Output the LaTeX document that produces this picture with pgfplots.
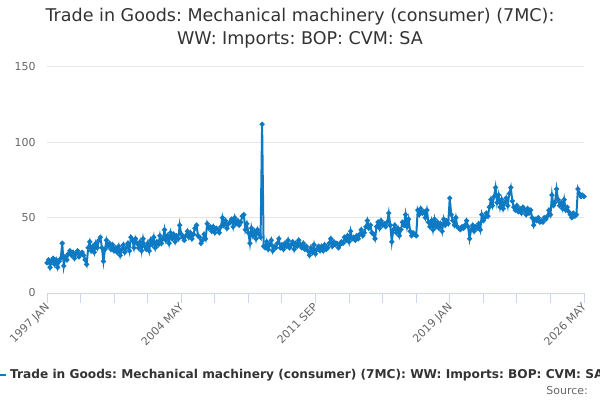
\documentclass[border=0pt]{standalone}
\usepackage{fontspec}
\setmainfont{DejaVu Sans}
\usepackage{pgfplots}
\pgfplotsset{compat=1.18}
\usepackage{pgfplotstable}
\definecolor{serie}{HTML}{0E7AC4}
\definecolor{gridc}{HTML}{E6E6E6}
\definecolor{axisc}{HTML}{CCD6EB}
\definecolor{tickt}{HTML}{666666}
\definecolor{titlec}{HTML}{333333}
\frenchspacing

\pgfplotstableread[row sep=\\]{
y\\
20\\22\\17\\21\\23\\19\\22\\17\\21\\23\\33\\18\\
24\\22\\26\\28\\25\\27\\23\\26\\28\\24\\26\\27\\
25\\22\\19\\30\\34\\28\\31\\27\\33\\30\\35\\37\\
30\\21\\29\\35\\31\\33\\29\\32\\28\\30\\27\\31\\
25\\29\\32\\27\\30\\33\\28\\37\\35\\30\\36\\33\\
30\\34\\28\\36\\31\\29\\33\\28\\35\\32\\37\\30\\
34\\32\\38\\33\\36\\42\\35\\38\\33\\40\\36\\39\\
34\\38\\36\\45\\39\\37\\35\\38\\41\\37\\40\\36\\
39\\43\\45\\38\\37\\33\\35\\39\\36\\46\\43\\44\\
41\\44\\40\\43\\42\\40\\44\\50\\45\\48\\43\\46\\
47\\49\\44\\50\\46\\48\\45\\47\\51\\52\\42\\46\\
40\\33\\43\\38\\41\\36\\42\\39\\37\\112\\31\\30\\
34\\29\\32\\35\\28\\31\\30\\33\\36\\30\\32\\29\\
33\\31\\35\\30\\32\\34\\29\\33\\31\\35\\32\\30\\
33\\29\\31\\28\\25\\30\\27\\32\\26\\29\\31\\28\\
31\\28\\32\\29\\30\\33\\36\\31\\34\\32\\33\\30\\
32\\34\\33\\37\\35\\38\\34\\41\\36\\37\\35\\38\\
36\\39\\42\\38\\40\\44\\48\\43\\45\\40\\39\\36\\
44\\47\\43\\48\\45\\46\\44\\47\\53\\45\\34\\42\\
45\\40\\43\\38\\42\\47\\45\\52\\44\\49\\41\\38\\
40\\39\\38\\55\\52\\56\\53\\54\\50\\55\\47\\44\\
48\\42\\49\\44\\47\\43\\46\\41\\49\\45\\48\\46\\
63\\52\\48\\45\\50\\44\\43\\42\\44\\43\\45\\48\\
44\\36\\42\\45\\41\\44\\43\\46\\42\\52\\48\\50\\
53\\51\\57\\62\\58\\64\\70\\60\\65\\57\\62\\56\\
60\\63\\58\\66\\70\\61\\57\\55\\58\\54\\56\\53\\
57\\55\\52\\56\\53\\55\\50\\45\\49\\48\\50\\47\\
48\\47\\50\\49\\51\\55\\52\\65\\58\\60\\69\\62\\
58\\60\\56\\62\\55\\57\\54\\52\\50\\53\\51\\52\\
69\\66\\64\\65\\64\\
}\data

\begin{document}
\begin{tikzpicture}[x=1bp,y=1bp]
\useasboundingbox (0,0) rectangle (600,400);
\begin{axis}[
  at={(47bp,107bp)}, anchor=south west,
  scale only axis, width=537bp, height=226bp,
  xmin=0, xmax=352, ymin=0, ymax=150,
  separate axis lines,
  axis x line*=bottom, axis y line*=left,
  x axis line style={axisc, line width=1bp, -},
  y axis line style={draw=none},
  ytick={0,50,100,150},
  ymajorgrids, grid style={gridc, line width=1bp},
  ytick style={draw=none},
  xtick={0,88,...,352},
  minor xtick={22,44,...,330},
  xticklabels={1997 JAN,2004 MAY,2011 SEP,2019 JAN,2026 MAY},
  xtick style={axisc, line width=1bp},
  minor x tick style={axisc, line width=1bp},
  xtick align=outside, major tick length=10bp, minor tick length=10bp,
  /pgf/number format/assume math mode=true,
  yticklabel style={font=\fontsize{11}{13}\selectfont, text=tickt, anchor=east, xshift=-8bp},
  xticklabel style={font=\fontsize{11}{13}\selectfont, text=tickt, rotate=45, anchor=north east, yshift=6bp, xshift=2bp},
  clip=false,
]
\addplot[serie, line width=2bp, mark=*, mark size=1.4bp, mark options={serie}] table[x expr=\coordindex, y=y] {\data};
\end{axis}
\node[text=titlec, font=\fontsize{17.6}{21}\selectfont] at (300,383) {Trade in Goods: Mechanical machinery (consumer) (7MC):};
\node[text=titlec, font=\fontsize{17.6}{21}\selectfont] at (300,360) {WW: Imports: BOP: CVM: SA};
\draw[serie, line width=2bp] (-2,25) -- (6,25);
\node[text=titlec, font=\bfseries\fontsize{12.2}{14}\selectfont, anchor=west, inner sep=0] at (10,25) {Trade in Goods: Mechanical machinery (consumer) (7MC): WW: Imports: BOP: CVM: SA};
\node[text=tickt, font=\fontsize{11}{13}\selectfont, anchor=east, inner sep=0] at (588,9) {Source:};
\end{tikzpicture}
\end{document}
